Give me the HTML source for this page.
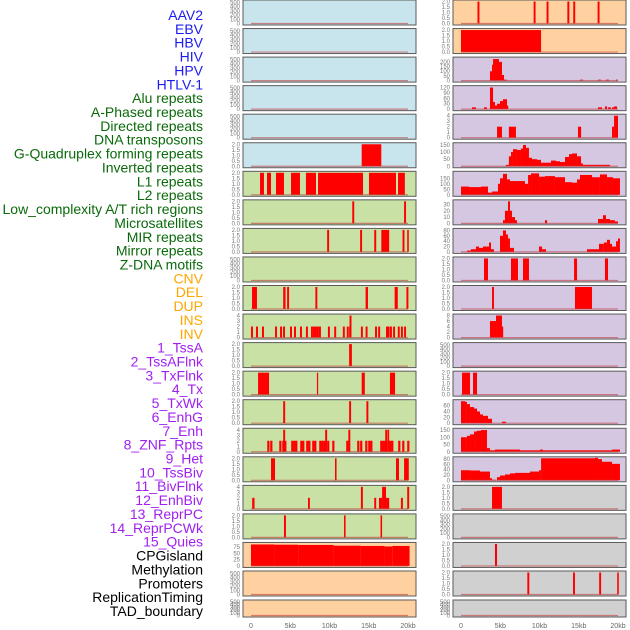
<!DOCTYPE html>
<html><head><meta charset="utf-8"><style>
html,body{margin:0;padding:0;background:#fff;width:630px;height:630px;overflow:hidden}
svg{display:block;font-family:"Liberation Sans",sans-serif}
</style></head><body>
<svg id="chart" width="630" height="630" viewBox="0 0 630 630"></svg>
<script>
// ---- data ----
const labelNames = ["AAV2","EBV","HBV","HIV","HPV","HTLV-1","Alu repeats","A-Phased repeats","Directed repeats","DNA transposons","G-Quadruplex forming repeats","Inverted repeats","L1 repeats","L2 repeats","Low_complexity A/T rich regions","Microsatellites","MIR repeats","Mirror repeats","Z-DNA motifs","CNV","DEL","DUP","INS","INV","1_TssA","2_TssAFlnk","3_TxFlnk","4_Tx","5_TxWk","6_EnhG","7_Enh","8_ZNF_Rpts","9_Het","10_TssBiv","11_BivFlnk","12_EnhBiv","13_ReprPC","14_ReprPCWk","15_Quies","CPGisland","Methylation","Promoters","ReplicationTiming","TAD_boundary"];
const labelColors = [].concat(Array(6).fill("#1c1cf0"),Array(13).fill("#0a6a0a"),Array(5).fill("#ffa500"),Array(15).fill("#a020f0"),Array(5).fill("#000"));
const xTickValues = [0,5,10,15,20];
const xTickLabels = ["0","5kb","10kb","15kb","20kb"];
const ticksBinary = [0,0.5,1,1.5,2];
const ticksEmpty = [0,100,200,300,400,500];
const ticks4 = [0,1,2,3,4];

// left column tracks [startKb,endKb,value]
const L5 = [[14.1,16.6,2]];
const L6 = [[1.15,1.65,2],[2.04,2.55,2],[3.18,4.2,2],[5.1,6.24,2],[7.0,8.28,2],[8.54,14.27,2],[15.03,18.47,2],[18.73,19.6,2]];
const L7 = [[12.9,13.15,2],[19.5,19.75,2]];
const L8 = [[9.7,9.95,2],[13.9,14.15,2],[15.7,15.95,2],[16.6,17.6,2],[19.3,19.55,2],[19.9,20.1,2]];
const L10 = [[0.13,0.76,2],[4.1,4.4,2],[4.6,4.85,2],[8.2,8.45,2],[14.6,14.9,2],[18.3,18.7,2],[19.8,20.05,2]];
const L11pos = [0,0.64,1.4,3.06,3.7,4.08,4.97,5.48,6.24,7.0,7.64,7.9,8.15,8.4,8.66,9.8,10.6,11.7,12.2,12.5,14.0,14.6,15.8,16.2,17.2,17.4,17.7,18.1,18.7,19.1,19.5];
const L11 = L11pos.map(p=>[p,p+0.25,2]).concat([[12.55,12.8,4]]);
const L12 = [[12.5,12.85,2]];
const L13 = [[0.9,2.3,2],[8.4,8.55,2],[14.1,14.5,2],[17.7,18.35,2]];
const L14 = [[4.1,4.35,2],[12.5,12.75,2],[14.7,14.95,2]];
const L15pos = [2.17,2.55,3.7,4.08,4.33,5.22,5.48,5.73,6.37,6.62,7.13,7.39,7.9,8.15,8.79,9.04,9.3,9.8,10.45,12.23,13.63,14.0,14.65,15.03,15.29,16.56,16.82,17.07,17.45,17.71,17.96,18.85,19.36,20.0];
const L15 = L15pos.map(p=>[p-0.1,p+0.18,2]).concat([[4.1,4.35,4],[9.45,9.7,4],[12.4,12.65,4],[17.1,17.35,4],[17.4,17.6,4]]);
const L16 = [[2.55,3.06,2],[10.7,10.9,2],[18.47,18.85,2],[19.5,20.1,2]];
const L17 = [[0.15,0.45,2],[7.26,7.5,2],[15.7,15.95,2],[16.3,16.7,2],[17.2,17.6,2],[19.1,19.35,2],[14.0,14.25,4],[16.7,17.2,4],[19.9,20.15,4]];
const L18 = [[4.2,4.45,2],[11.85,12.05,2],[16.5,16.7,2]];
const L19 = [[0,3,86],[3,6,85],[6,10.5,84],[10.5,14,81],[14,17,80],[17,18,78],[18,20.2,80]];

// right column tracks
const R0 = [[2.1,2.35,2],[9.25,9.5,2],[10.9,11.15,2],[13.55,13.8,2],[14.3,14.55,2],[17.4,17.65,2]];
const R1 = [[0,10.2,2]];
const R2 = [[3.69,3.95,100],[3.95,4.08,170],[4.08,4.84,230],[4.84,5.22,200],[5.22,5.48,60],[5.48,5.86,10],[15.16,15.54,10],[17.45,17.83,10],[18.47,18.85,10],[19.75,20,10]];
const R3 = [[1.4,1.9,10],[2.93,3.3,10],[3.69,4.08,120],[4.08,4.33,40],[4.33,4.59,20],[4.59,4.97,30],[4.97,5.35,45],[5.35,5.86,55],[5.86,6.0,20],[17.45,17.96,10],[18.34,18.6,15],[18.73,19.1,10],[19.24,19.5,10],[19.5,19.87,15]];
const R4 = [[4.59,5.22,2],[6.1,7.0,2],[14.9,15.3,2],[19.24,19.5,2],[19.5,20.0,4]];
const R5 = [[5.73,6.1,10],[6.1,6.37,70],[6.37,6.62,100],[6.62,7.13,120],[7.13,7.64,115],[7.64,7.9,125],[7.9,8.28,150],[8.28,8.66,130],[8.66,9.04,60],[9.04,9.68,50],[9.68,10.19,45],[10.19,11.46,25],[11.46,12.1,40],[12.1,12.61,35],[12.61,13.25,30],[13.25,13.76,65],[13.76,14.14,85],[14.14,14.78,90],[14.78,15.29,70],[15.29,15.54,20],[15.54,18.98,10]];
const R6 = [[0,1.02,75],[1.02,2.55,70],[2.55,3.44,75],[3.44,3.95,20],[3.95,4.71,30],[4.71,4.97,100],[4.97,5.35,150],[5.35,5.86,190],[5.86,6.24,140],[6.24,8.15,125],[8.15,8.54,100],[8.54,8.92,180],[8.92,9.94,195],[9.94,10.7,165],[10.7,11.97,170],[11.97,13.25,160],[13.25,14.14,115],[14.14,14.78,110],[14.78,15.16,140],[15.16,16.69,180],[16.69,17.7,160],[17.7,18.6,185],[18.6,19.36,160],[19.36,20.25,150]];
const R7 = [[5.35,5.6,5],[5.6,5.99,20],[5.99,6.24,35],[6.24,6.5,20],[6.5,6.88,10],[6.88,7.13,5],[10.7,10.96,5],[17.45,18.09,7],[18.09,18.47,13],[18.47,18.98,7],[18.98,19.6,5],[19.6,20,3]];
const R8 = [[0.76,1.27,5],[1.27,1.9,10],[1.9,2.29,20],[2.29,2.8,15],[2.8,3.57,20],[3.57,3.82,35],[3.82,4.2,10],[4.97,5.35,60],[5.35,5.73,80],[5.73,5.99,65],[5.99,6.24,50],[6.24,6.75,15],[9.94,10.32,20],[10.32,10.83,10],[16.05,17.58,10],[17.58,18.2,30],[18.2,18.6,35],[18.6,18.98,45],[18.98,19.24,30],[19.24,19.75,20],[19.75,20.0,40],[20.0,20.25,50]];
const R9 = [[2.93,3.44,2],[6.37,7.26,2],[7.9,8.66,2],[14.4,14.78,2],[18.34,18.73,2]];
const R10 = [[3.95,4.2,2],[14.52,16.69,2]];
const R11 = [[3.69,4.46,6],[4.46,5.22,8],[5.22,5.35,4]];
const R13 = [[0.13,1.15,2],[1.53,2.04,2]];
const R14 = [[0,0.51,75],[0.51,0.76,73],[0.76,1.15,65],[1.15,1.66,55],[1.66,2.04,50],[2.04,2.42,40],[2.42,2.8,30],[2.8,3.44,25],[3.44,3.95,15],[5.22,5.73,5]];
const R15 = [[0,0.76,100],[0.76,1.15,110],[1.15,1.66,120],[1.66,2.04,140],[2.04,2.55,145],[2.55,3.31,150],[3.31,3.69,25],[3.69,4.33,10],[4.33,7.52,15],[7.52,10.06,10],[10.06,10.45,15],[10.45,19.24,10],[19.24,20.25,15]];
const R16 = [[0,1.15,38],[1.15,2.42,37],[2.42,3.69,33],[3.69,3.95,8],[3.95,4.46,2],[4.59,4.97,12],[4.97,5.6,18],[5.6,6.24,22],[6.24,6.88,26],[6.88,8.79,28],[8.79,9.94,33],[9.94,10.2,38],[10.2,17.07,83],[17.07,17.45,85],[17.45,17.96,80],[17.96,19.24,70],[19.24,20.25,62]];
const R17 = [[3.95,5.22,2]];
const R19 = [[4.33,4.59,2]];
const R20 = [[8.45,8.7,2],[14.27,14.52,2],[17.6,17.85,2],[19.9,20.1,2]];

// ---- layout ----
const BLUE="#c8e4ec",GREEN="#c9e1a5",ORANGE="#ffd1a0",PURPLE="#d5c6e2",GRAY="#d0d0d0";
const panels = [
 {c:0,r:0,bg:BLUE,t:ticksEmpty,max:520,d:[]},{c:0,r:1,bg:BLUE,t:ticksEmpty,max:520,d:[]},
 {c:0,r:2,bg:BLUE,t:ticksEmpty,max:520,d:[]},{c:0,r:3,bg:BLUE,t:ticksEmpty,max:520,d:[]},
 {c:0,r:4,bg:BLUE,t:ticksEmpty,max:520,d:[]},{c:0,r:5,bg:BLUE,t:ticksBinary,max:2,d:L5},
 {c:0,r:6,bg:GREEN,t:ticksBinary,max:2,d:L6},{c:0,r:7,bg:GREEN,t:ticksBinary,max:2,d:L7},
 {c:0,r:8,bg:GREEN,t:ticksBinary,max:2,d:L8},{c:0,r:9,bg:GREEN,t:ticksEmpty,max:520,d:[]},
 {c:0,r:10,bg:GREEN,t:ticksBinary,max:2,d:L10},{c:0,r:11,bg:GREEN,t:ticks4,max:4,d:L11},
 {c:0,r:12,bg:GREEN,t:ticksBinary,max:2,d:L12},{c:0,r:13,bg:GREEN,t:ticksBinary,max:2,d:L13},
 {c:0,r:14,bg:GREEN,t:ticksBinary,max:2,d:L14},{c:0,r:15,bg:GREEN,t:ticks4,max:4,d:L15},
 {c:0,r:16,bg:GREEN,t:ticksBinary,max:2,d:L16},{c:0,r:17,bg:GREEN,t:ticks4,max:4,d:L17},
 {c:0,r:18,bg:GREEN,t:ticksBinary,max:2,d:L18},{c:0,r:19,bg:ORANGE,t:[0,25,50,75],max:88,d:L19},
 {c:0,r:20,bg:ORANGE,t:ticksEmpty,max:520,d:[]},{c:0,r:21,bg:ORANGE,t:ticksEmpty,max:520,d:[]},
 {c:1,r:0,bg:ORANGE,t:ticksBinary,max:2,d:R0},{c:1,r:1,bg:ORANGE,t:ticksBinary,max:2,d:R1},
 {c:1,r:2,bg:PURPLE,t:[0,50,100,150,200],max:235,d:R2},{c:1,r:3,bg:PURPLE,t:[0,30,60,90,120],max:122,d:R3},
 {c:1,r:4,bg:PURPLE,t:ticks4,max:4,d:R4},{c:1,r:5,bg:PURPLE,t:[0,50,100,150],max:155,d:R5},
 {c:1,r:6,bg:PURPLE,t:[0,50,100,150],max:200,d:R6},{c:1,r:7,bg:PURPLE,t:[0,10,20,30],max:35,d:R7},
 {c:1,r:8,bg:PURPLE,t:[0,20,40,60,80],max:82,d:R8},{c:1,r:9,bg:PURPLE,t:ticksBinary,max:2,d:R9},
 {c:1,r:10,bg:PURPLE,t:ticksBinary,max:2,d:R10},{c:1,r:11,bg:PURPLE,t:[0,2,4,6,8],max:8,d:R11},
 {c:1,r:12,bg:PURPLE,t:ticksEmpty,max:520,d:[]},{c:1,r:13,bg:PURPLE,t:ticksBinary,max:2,d:R13},
 {c:1,r:14,bg:PURPLE,t:[0,20,40,60],max:75,d:R14},{c:1,r:15,bg:PURPLE,t:[0,50,100,150],max:152,d:R15},
 {c:1,r:16,bg:PURPLE,t:[0,20,40,60,80],max:83,d:R16},{c:1,r:17,bg:GRAY,t:ticksBinary,max:2,d:R17},
 {c:1,r:18,bg:GRAY,t:ticksEmpty,max:520,d:[]},{c:1,r:19,bg:GRAY,t:ticksBinary,max:2,d:R19},
 {c:1,r:20,bg:GRAY,t:ticksBinary,max:2,d:R20},{c:1,r:21,bg:GRAY,t:ticksEmpty,max:520,d:[]}
];

const NS="http://www.w3.org/2000/svg";
const svg=document.getElementById('chart');
function mk(tag,attrs,parent){const e=document.createElementNS(NS,tag);for(const k in attrs)e.setAttribute(k,attrs[k]);(parent||svg).appendChild(e);return e;}
const colX=[243,453];
const PW=173;
function xScale(col,kb){return colX[col]+8+kb*7.85;}
function panelTop(r){return r===21?600:r*28.55;}
function panelH(r){return r===21?17:25;}

// labels
labelNames.forEach((n,i)=>{
  const t=mk('text',{x:203,y:20+i*13.86,'text-anchor':'end','font-size':'14',fill:labelColors[i]});
  t.textContent=n;
  
  
});

panels.forEach(p=>{
  const top=panelTop(p.r),h=panelH(p.r),x0=colX[p.c];
  const g=mk('g',{});
  
  
  mk('rect',{x:x0,y:top,width:PW,height:h,fill:p.bg,stroke:'#5a5a5a','stroke-width':1},g);
  const yb=top+h-1.5, yt=top+1.5;
  const yS=v=>yb-(v/p.max)*(yb-yt);
  p.d.forEach(s=>{
    const xa=xScale(p.c,s[0]),xb=xScale(p.c,s[1]);
    const b=mk('rect',{x:xa,y:yS(s[2]),width:Math.max(1.2,xb-xa),height:yb-yS(s[2]),fill:'#ff0000'},g);
    
    
  });
  mk('line',{x1:xScale(p.c,0),x2:xScale(p.c,20),y1:yb,y2:yb,stroke:'#c04040','stroke-opacity':0.6,'stroke-width':1.2},g);
  p.t.forEach(v=>{
    const lab=p.t===ticksBinary?v.toFixed(1):String(v);
    const tt=mk('text',{x:x0-3,y:yS(v)+2,'text-anchor':'end','font-size':'6',fill:'#777'},g);
    tt.textContent=lab;
    
    
  });
});

// x axes
[0,1].forEach(c=>{
  xTickValues.forEach((v,i)=>{
    const t=mk('text',{x:xScale(c,v),y:628,'text-anchor':'middle','font-size':'7',fill:'#666'});
    t.textContent=xTickLabels[i];
    
    
  });
});
</script>
</body></html>
